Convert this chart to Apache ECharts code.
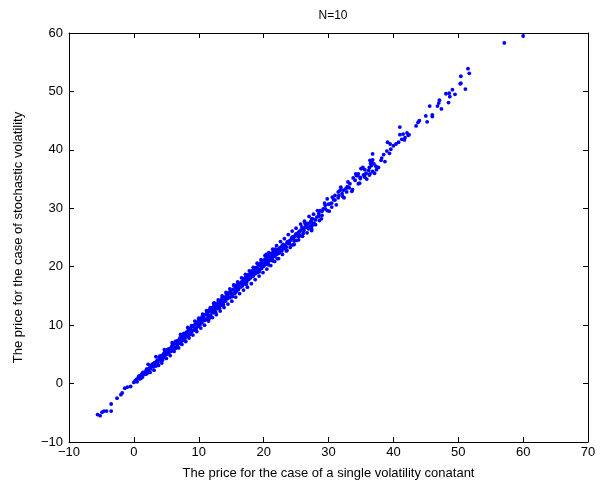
<!DOCTYPE html>
<html>
<head>
<meta charset="utf-8">
<script src="https://cdn.jsdelivr.net/npm/echarts@6/dist/echarts.min.js"></script>
<style>
html,body{margin:0;padding:0;background:#fff;}
#chart{width:605px;height:488px;}
</style>
</head>
<body>
<div id="chart"></div>
<script>
// Axis ticks
const xTicks = [-10, 0, 10, 20, 30, 40, 50, 60, 70];
const yTicks = [-10, 0, 10, 20, 30, 40, 50, 60];

// Points: [single volatility price, stochastic volatility price]
const lowTail = [
  [-5.6,-5.3],[-5.2,-5.5],[-4.9,-4.9],[-4.6,-4.7],[-4.2,-4.7],[-3.5,-3.5],[-3.5,-4.7],
  [-2.6,-2.5],[-2.0,-1.9],[-1.8,-1.6],[-1.4,-0.8],[-1.0,-0.6],[-0.5,-0.5],[0.0,0.2],[0.8,1.3]
];

const denseBand = [
  [0.2,0.5],[0.5,0.3],[0.7,1.1],[0.9,0.8],[1.2,1.6],[1.3,1.1],[1.6,1.9],[1.8,1.6],[2.0,2.5],[2.1,2.0],
  [2.4,2.7],[2.6,2.5],[2.8,3.3],[3.0,2.9],[3.2,3.6],[3.3,3.2],[3.6,4.0],[3.7,3.6],[3.9,4.5],[4.1,4.0],
  [4.2,4.8],[4.4,4.3],[4.6,5.1],[4.7,4.5],[4.9,5.4],[5.1,5.0],[5.2,5.8],[5.4,5.3],[5.6,6.0],[5.7,5.5],
  [5.9,6.5],[6.0,5.9],[6.2,6.8],[6.3,6.2],[6.5,7.1],[6.7,6.5],[6.8,7.4],[7.0,6.9],[7.1,7.8],[7.3,7.2],
  [7.5,8.1],[7.6,7.4],[7.8,8.5],[7.9,7.8],[8.1,8.8],[8.3,8.1],[8.4,9.1],[8.6,8.4],[8.7,9.5],[8.9,8.9],
  [9.1,9.8],[9.2,9.1],[9.4,10.1],[9.6,9.4],[9.7,10.5],[9.9,9.8],[10.0,10.9],[10.2,10.1],[10.4,11.1],[10.5,10.4],
  [10.7,11.5],[10.9,10.8],[11.0,11.8],[11.2,11.0],[11.3,12.2],[11.5,11.4],[11.7,12.4],[11.8,11.7],[12.0,12.9],[12.2,12.1],
  [12.3,13.2],[12.5,12.3],[12.7,13.5],[12.8,12.8],[13.0,13.9],[13.1,13.1],[13.3,14.2],[13.5,13.4],[13.6,14.6],[13.8,13.9],
  [14.0,14.8],[14.1,14.1],[14.3,15.3],[14.4,14.5],[14.6,15.5],[14.8,14.7],[14.9,15.9],[15.1,15.2],[15.3,16.1],[15.4,15.4],
  [15.6,16.6],[15.8,15.8],[15.9,16.9],[16.1,16.1],[16.2,17.2],[16.4,16.5],[16.6,17.4],[16.7,16.7],[16.9,17.9],[17.1,17.1],
  [17.2,18.2],[17.4,17.4],[17.5,18.6],[17.7,17.8],[17.9,18.8],[18.0,18.1],[18.2,19.3],[18.4,18.4],[18.5,19.6],[18.7,18.8],
  [18.9,19.9],[19.0,19.0],[19.2,20.3],[19.4,19.5],[19.5,20.6],[19.7,19.7],[19.8,21.0],[20.0,20.1],[20.2,21.3],[20.3,20.4],
  [20.5,21.6],[20.7,20.8],[20.8,21.9],[21.0,21.1],[21.2,22.3],[21.3,21.4],[21.5,22.6],[21.7,21.8],[21.8,23.0],[22.0,22.1],
  [0.4,0.7],[1.0,1.3],[1.5,1.5],[2.3,2.4],[2.9,3.1],[3.5,3.8],[4.0,4.2],[4.5,4.9],[5.0,5.3],[5.5,5.7],
  [6.1,6.3],[6.6,6.8],[7.2,7.6],[7.7,8.0],[8.2,8.5],[8.8,9.2],[9.3,9.6],[9.8,10.2],[10.3,10.6],[10.8,11.2],
  [11.4,11.8],[11.9,12.3],[12.4,12.8],[12.9,13.4],[13.4,13.8],[14.0,14.4],[14.5,15.0],[15.0,15.5],[15.5,16.0],[16.0,16.6],
  [16.5,17.0],[17.0,17.6],[17.6,18.1],[18.1,18.7],[18.6,19.2],[19.1,19.7],[19.6,20.2],[20.1,20.8],[20.6,21.2],[21.1,21.7],
  [21.6,22.2],[22.2,22.9],[12.3,13.7],[15.4,16.8],[20.4,22.1],[20.8,20.3],[20.4,20.5]
];

const bandEdges = [
  [2.2,3.3],[2.5,1.9],[2.7,3.0],[3.1,2.3],[3.4,4.6],[3.8,3.1],[4.1,4.6],[4.3,3.5],[4.7,5.8],[5.0,4.3],
  [5.3,5.9],[5.6,4.8],[5.9,7.0],[6.2,5.5],[6.4,7.2],[6.9,6.1],[7.2,8.4],[7.4,6.7],[7.7,8.6],[8.0,7.2],
  [8.3,9.6],[8.5,7.8],[8.9,9.9],[9.1,8.3],[9.4,10.7],[9.7,8.9],[10.0,11.2],[10.3,9.5],[10.6,11.9],[10.9,10.0],
  [11.2,12.5],[11.5,10.7],[11.8,13.0],[12.1,11.3],[12.4,13.8],[12.7,11.8],[13.0,14.3],[13.3,12.4],[13.6,15.0],[13.9,13.0],
  [14.2,15.6],[14.5,13.6],[14.8,16.2],[15.1,14.1],[15.4,16.9],[15.7,14.8],[16.0,17.4],[16.3,15.4],[16.6,18.1],[16.9,16.0],
  [17.2,18.7],[17.5,16.5],[17.8,19.3],[18.1,17.1],[18.4,19.9],[18.7,17.8],[19.0,20.6],[19.3,18.4],[19.6,21.2],[19.9,19.0],
  [20.2,21.9],[20.5,19.6],[20.8,22.4],[21.1,20.2],[21.4,23.0],[21.7,20.9],[22.0,23.6],[22.3,21.4],[22.6,24.3],[22.9,22.1],
  [23.2,24.8],[23.5,22.7],[23.8,25.5],[24.1,23.3],[24.4,26.1],[24.7,23.8],[25.0,26.6],[25.4,24.6],[25.7,27.3],[26.0,25.2],
  [26.3,27.8],[26.7,25.8],[27.0,28.6],[27.4,26.5],[27.7,29.0],[28.0,27.2],
  [2.0,1.7],[3.4,3.0],[4.8,5.5],[6.4,6.0],[7.4,8.0],[8.6,9.0],[9.5,9.1],[10.6,11.0],[11.6,11.1],[12.6,13.0],
  [13.2,12.9],[14.2,14.6],[15.2,14.9],[16.2,16.8],[17.3,17.0],[18.3,18.9],[19.3,19.1],[20.3,20.9],[21.4,21.0],[22.4,23.0],
  [23.5,23.4],[24.5,25.1],[25.5,25.2],[26.6,27.2],[27.5,27.1]
];

const fillBand = [
  [1.1,0.9],[1.4,1.9],[1.9,2.3],[2.6,2.9],[3.0,3.4],[3.6,3.3],[4.0,4.7],[4.4,4.0],[4.9,5.0],[5.3,5.5],
  [5.8,6.2],[6.1,5.8],[6.6,7.2],[7.0,7.3],[7.5,7.6],[7.9,8.5],[8.3,8.4],[8.8,8.6],[9.2,9.9],[9.6,10.3],
  [10.1,10.4],[10.5,11.4],[10.9,11.0],[11.4,11.3],[11.7,12.7],[12.2,12.5],[12.6,12.2],[13.0,13.6],[13.5,14.0],[13.8,13.5],
  [14.3,14.8],[14.7,15.4],[15.2,15.4],[15.6,15.5],[15.9,16.3],[16.3,17.0],[16.8,17.0],[17.2,17.7],[17.6,18.3],[18.0,18.4],
  [18.4,18.8],[18.8,19.5],[19.2,19.4],[19.6,20.1],[20.0,20.6],[20.4,21.0],[20.8,21.3],[21.2,21.7],[21.6,21.9],[22.0,22.6],
  [22.4,22.4],[22.8,23.5],[23.2,23.4],[23.6,24.1],[24.0,24.4],[24.4,25.0],[24.8,25.2],[25.2,25.7],[25.6,26.1],[26.0,26.5],
  [26.4,26.7],[26.8,27.4],[27.2,27.0],[27.6,28.2],[28.0,28.0],[28.5,28.6],[29.0,29.5],[29.5,29.9],[30.0,30.7],[30.5,30.9],
  [31.0,31.4],[31.6,32.2],[32.2,32.0],[32.7,33.4],[33.2,33.5]
];

const spreadBand = [
  [22.5,23.2],[22.8,22.7],[23.0,23.8],[23.4,23.3],[23.7,24.3],[24.0,23.9],[24.3,24.9],[24.7,24.4],
  [25.0,25.6],[25.3,25.2],[25.8,26.3],[26.1,25.7],[26.5,26.9],[26.9,26.5],[27.3,27.8],[27.8,27.4],
  [21.5,21.7],[22.1,21.4],[21.8,22.3],[22.3,22.3],[22.6,22.8],[23.6,22.8],[23.1,23.1],[23.3,23.7],
  [24.4,23.7],[23.8,24.0],[24.1,24.5],[25.1,24.5],[24.6,24.8],[24.9,25.4],[25.6,25.4],[25.4,25.9],
  [26.2,26.2],[25.9,26.8],[27.4,26.2],[26.7,26.8],[26.4,27.4],[27.7,27.4],[27.2,27.6],[27.4,28.2],
  [28.6,27.9],[28.2,28.5],[29.0,28.8],[28.5,29.1],[29.8,29.6],[28.7,29.6],[29.2,29.9],[30.5,30.2],
  [29.5,30.5],[30.3,30.8],[29.8,31.6],[30.8,31.5],[31.5,31.8],[31.0,32.2],[32.8,32.8],[32.1,32.5],
  [31.5,32.8],[32.3,33.1],[31.9,33.6],[33.7,33.2],[32.9,33.7],[33.3,34.2],[34.6,34.2],[34.1,34.8],
  [34.9,35.1],[34.5,35.6],[35.6,35.8],[36.4,35.9],[36.2,36.5],[35.0,36.8],[37.3,37.2],[36.7,37.9],
  [33.8,35.2],[34.3,35.6],[34.6,35.9],[34.9,35.3],[35.6,35.3],[35.4,35.7],[35.8,36.0],[36.3,35.7],
  [35.1,36.8],[35.6,36.6],[36.8,36.3],[37.4,36.6],[37.7,37.0],[36.3,37.0],[36.6,37.3],[37.0,37.6],
  [36.4,38.2],[36.8,38.3],[38.1,38.2],[38.7,38.0],[36.8,39.3],[38.2,38.6],[38.5,39.2],[39.4,39.4],
  [39.0,39.8],[39.6,40.1],[39.1,41.3],[39.5,41.0],[40.0,40.7],[40.4,41.0],[40.8,41.3],[41.3,41.8],
  [41.8,42.1],[42.4,42.6],[42.1,42.9],[41.5,42.7],[41.0,42.6],[41.0,43.9],[41.7,41.7],[42.3,42.5],
  [28.3,29.6],[28.9,28.2],[29.4,30.9],[30.1,29.5],[30.6,31.9],[31.2,30.6],[31.8,33.1],[32.4,31.8],
  [33.0,34.5],[33.6,32.9],[34.2,35.9],[34.8,34.3],[35.3,37.0],[35.9,35.0],[36.5,37.7],[37.1,36.0]
];

const upperTail = [
  [43.5,44.1],[43.8,44.7],[44.0,45.0],[45.2,44.8],[45.0,45.8],[46.0,45.7],[46.0,46.0],[45.6,47.5],
  [47.4,47.0],[46.8,47.5],[47.0,48.0],[47.1,48.5],[48.5,48.1],[48.7,49.1],[49.5,49.5],[48.6,49.7],
  [48.1,49.6],[49.1,50.3],[51.1,50.4],[50.4,51.4],[50.3,51.3],[50.4,52.6],[51.7,53.1],[51.5,53.9],
  [57.1,58.3],[60.0,59.5]
];

const points = lowTail.concat(denseBand, bandEdges, fillBand, spreadBand, upperTail);

const font = 'Liberation Sans, Arial, Helvetica, sans-serif';
const chart = echarts.init(document.getElementById('chart'), null, {renderer: 'canvas'});

const axisLine = {show: true, onZero: false, lineStyle: {color: '#000', width: 1}};
const axisTick = {show: true, inside: true, length: 5, lineStyle: {color: '#000', width: 1}};
const fmt = v => String(v).replace('-', '\u2212');

chart.setOption({
  animation: false,
  backgroundColor: '#fff',
  title: {
    text: 'N=10',
    left: 328, top: 5, textAlign: 'center',
    textStyle: {fontFamily: font, fontSize: 12, fontWeight: 'normal', color: '#000'}
  },
  grid: {left: 69, right: 17, top: 33, bottom: 46, containLabel: false},
  xAxis: [{
    type: 'value', min: xTicks[0], max: xTicks[xTicks.length - 1], interval: 10,
    position: 'bottom',
    name: 'The price for the case of a single volatility conatant',
    nameLocation: 'middle', nameGap: 25,
    nameTextStyle: {fontFamily: font, fontSize: 13, color: '#000'},
    axisLine: axisLine, axisTick: axisTick,
    axisLabel: {fontFamily: font, fontSize: 13, color: '#000', margin: 4, formatter: fmt},
    splitLine: {show: false}
  }, {
    type: 'value', min: xTicks[0], max: xTicks[xTicks.length - 1], interval: 10,
    position: 'top',
    axisLine: axisLine, axisTick: axisTick,
    axisLabel: {show: false}, splitLine: {show: false}
  }],
  yAxis: [{
    type: 'value', min: yTicks[0], max: yTicks[yTicks.length - 1], interval: 10,
    position: 'left',
    name: 'The price for the case of stochastic volatility',
    nameLocation: 'middle', nameGap: 44, nameRotate: 90,
    nameTextStyle: {fontFamily: font, fontSize: 13, color: '#000'},
    axisLine: axisLine, axisTick: axisTick,
    axisLabel: {fontFamily: font, fontSize: 13, color: '#000', margin: 6, formatter: fmt},
    splitLine: {show: false}
  }, {
    type: 'value', min: yTicks[0], max: yTicks[yTicks.length - 1], interval: 10,
    position: 'right',
    axisLine: axisLine, axisTick: axisTick,
    axisLabel: {show: false}, splitLine: {show: false}
  }],
  series: [{
    type: 'scatter',
    data: points,
    symbol: 'circle',
    symbolSize: 3.8,
    itemStyle: {color: '#0000ff', opacity: 1},
    xAxisIndex: 0, yAxisIndex: 0
  }]
});
</script>
</body>
</html>
